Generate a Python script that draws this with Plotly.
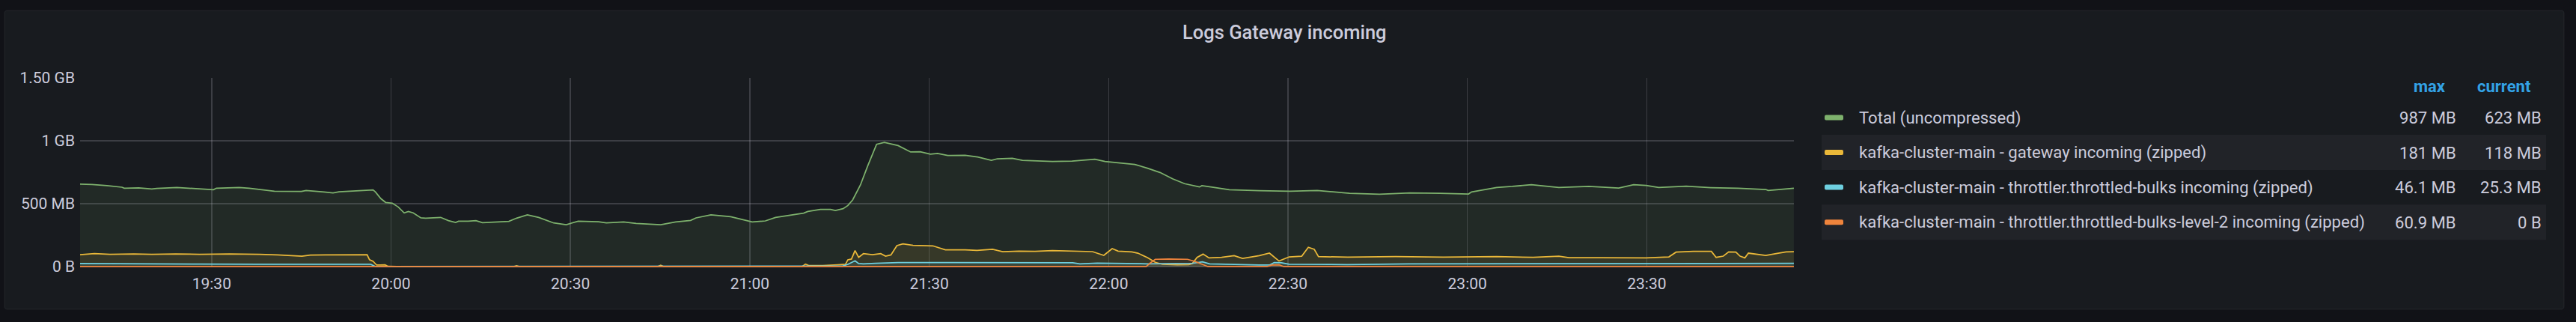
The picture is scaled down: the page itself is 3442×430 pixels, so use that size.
import pandas as pd
import plotly.graph_objects as go

# ---------------- data (minutes after 19:08, values in MB) ----------------
base_time = "2021-01-01 19:08:00"

t_total = [0, 2.0, 4.5, 7.0, 7.4, 9.8, 12.0, 12.8, 16.2, 20.0, 22.3, 22.8, 26.6, 28.3, 30.8, 32.5,
           37.0, 37.8, 40.8, 42.3, 43.3, 45.8, 46.6, 49.0, 49.4, 50.3, 51.1, 52.2, 53.2, 54.2, 54.9,
           55.7, 57.0, 57.8, 60.3, 61.6, 62.8, 63.3, 64.9, 66.2, 67.3, 71.7, 73.0, 74.8, 76.7, 79.2,
           81.3, 82.5, 83.3, 86.7, 88.0, 90.9, 93.0, 97.1, 99.6, 102.1, 103.0, 105.5, 108.8, 112.4,
           114.6, 116.3, 118.8, 121.0, 121.7, 123.8, 125.5, 126.3, 127.6, 128.4, 129.2, 130.5, 131.7,
           132.6, 133.2, 134.5, 136.8, 138.9, 140.5, 142.2, 143.4, 145.1, 148.0, 150.1, 152.4, 153.4,
           155.9, 157.6, 160.9, 162.6, 165.9, 169.7, 171.4, 174.3, 176.4, 178.5, 180.6, 182.7, 184.7,
           187.2, 187.6, 189.3, 192.2, 197.2, 202.3, 206.9, 212.3, 217.3, 222.4, 227.4, 232.2, 232.7,
           236.9, 239.5, 242.7, 247.3, 252.3, 257.3, 259.8, 261.9, 264.0, 268.6, 272.7, 277.3, 281.9,
           282.3, 286.6]
v_total = [655, 653, 643, 631, 623, 625, 617, 621, 629, 619, 611, 623, 629, 623, 609, 599,
           597, 605, 593, 585, 595, 601, 607, 609, 593, 540, 510, 504, 474, 427, 438,
           427, 387, 385, 391, 365, 351, 361, 361, 365, 349, 359, 385, 411, 391, 347,
           333, 351, 361, 357, 347, 355, 343, 333, 355, 367, 387, 411, 397, 355,
           363, 391, 411, 425, 438, 454, 454, 446, 460, 486, 530, 649, 798,
           907, 972, 987, 962, 911, 913, 893, 899, 883, 885, 871, 845, 857,
           861, 845, 841, 835, 839, 853, 835, 821, 812, 782, 748, 698, 659,
           633, 643, 631, 611, 603, 599, 605, 583, 575, 585, 583, 577, 593,
           629, 637, 651, 629, 637, 625, 651, 645, 629, 639, 627, 623, 613,
           605, 623]

t_gateway = [0, 2.4, 5.0, 7.0, 9.0, 12.0, 16.0, 20.0, 22.5, 25.0, 30.0, 33.0, 37.1, 38.5, 41.0,
             45.0, 48.0, 48.4, 49.0, 49.6, 51.0, 51.5, 53.0, 72.5, 73.0, 73.5, 96.6, 97.1, 97.6,
             120.8, 121.3, 121.8, 124.2, 126.7, 128.0, 128.4, 129.0, 129.6, 130.2, 131.0, 132.5,
             133.9, 134.7, 135.6, 136.6, 137.6, 139.3, 142.6, 144.7, 148.0, 150.0, 152.6, 154.3,
             157.0, 159.7, 162.6, 165.9, 169.3, 171.2, 172.6, 173.6, 175.9, 176.9, 178.5, 179.8,
             181.0, 183.5, 185.4, 186.0, 186.8, 187.8, 188.8, 190.9, 193.0, 194.4, 197.2, 198.9,
             200.5, 202.2, 204.3, 205.4, 206.4, 207.1, 212.0, 220.0, 228.0, 236.9, 243.0, 247.3,
             249.0, 254.0, 261.9, 265.7, 266.9, 269.8, 272.8, 273.6, 274.8, 275.7, 276.9, 277.6,
             278.4, 279.0, 281.1, 281.9, 284.0, 285.3, 286.6]
v_gateway = [95, 103, 97, 99, 101, 97, 101, 97, 99, 101, 97, 93, 83, 91, 93,
             95, 95, 54, 42, 12, 14, 2, 0, 0, 6, 0, 0, 10, 0,
             2, 20, 10, 8, 14, 18, 54, 60, 127, 73, 103, 95,
             103, 83, 93, 167, 181, 169, 165, 133, 133, 129, 137, 119,
             123, 121, 127, 121, 119, 89, 143, 123, 117, 107, 71, 34,
             18, 14, 16, 24, 73, 99, 69, 73, 87, 65, 87, 107,
             44, 77, 83, 153, 137, 79, 75, 79, 75, 79, 73, 83,
             71, 71, 69, 77, 115, 121, 121, 73, 83, 117, 115, 83,
             69, 107, 97, 89, 107, 117, 118]

t_bulks = [0, 5, 10, 20, 30, 40, 48, 48.6, 49.4, 127.0, 127.5, 128.4, 129.6, 130.2, 131.0, 133.0,
           136.8, 145.0, 160.0, 166.0, 167.2, 170.1, 178.5, 182.7, 186.0, 187.7, 188.9, 197.2,
           198.9, 199.7, 200.9, 202.2, 211.9, 222.2, 232.7, 241.0, 250.0, 260.0, 270.0, 280.0, 286.6]
v_bulks = [24, 22, 20, 20, 18, 18, 20, 18, 0, 0, 4, 18, 46.1, 24, 22, 26,
           32, 32, 30, 30, 22, 28, 22, 22, 26, 38, 22, 12,
           12, 32, 30, 18, 16, 22, 22, 24, 22, 22, 24, 22, 25.3]

t_level2 = [0, 178.3, 179.0, 179.8, 182.0, 185.2, 186.5, 188.0, 188.6, 198.5, 199.3, 200.5, 201.3, 286.6]
v_level2 = [0, 0, 30, 58, 60.9, 58, 40, 10, 0, 0, 12, 14, 0, 0]

series_names = ["Total (uncompressed)",
                "kafka-cluster-main - gateway incoming (zipped)",
                "kafka-cluster-main - throttler.throttled-bulks incoming (zipped)",
                "kafka-cluster-main - throttler.throttled-bulks-level-2 incoming (zipped)"]
series_colors = ["#7EB26D", "#EAB839", "#6ED0E0", "#EF843C"]
fill_colors = ["rgba(126,178,109,0.1)", "rgba(234,184,57,0.1)",
               "rgba(110,208,224,0.1)", "rgba(239,132,60,0.1)"]
legend_max = ["987 MB", "181 MB", "46.1 MB", "60.9 MB"]
legend_current = ["623 MB", "118 MB", "25.3 MB", "0 B"]

y_tickvals = [0, 500, 1000, 1500]
y_ticktext = ["0 B", "500 MB", "1 GB", "1.50 GB"]
title_text = "Logs Gateway incoming"

# ---------------- layout geometry ----------------
W, H = 3442, 430
ML, MR, MT, MB = 107, 1045, 104, 73
PW, PH = W - ML - MR, H - MT - MB

def px(x):
    return (x - ML) / PW

def py(y):
    return (H - MB - y) / PH

OUTER = "#111217"
PANEL = "#181b1f"
TEXT = "rgb(204,204,220)"
FONT = "Roboto"

base = pd.Timestamp(base_time)
def to_times(mins):
    return [base + pd.Timedelta(minutes=m) for m in mins]

fig = go.Figure()
for t, v, name, col, fc in zip([t_total, t_gateway, t_bulks, t_level2],
                               [v_total, v_gateway, v_bulks, v_level2],
                               series_names, series_colors, fill_colors):
    fig.add_trace(go.Scatter(x=to_times(t), y=v, name=name, mode="lines",
                             line=dict(color=col, width=1.75), fill="tozeroy",
                             fillcolor=fc, hoverinfo="skip", showlegend=False))

def rounded_path(x0, y0, x1, y1, r):
    def P(x, y):
        return f"{px(x):.6f},{py(y):.6f}"
    return (f"M {P(x0 + r, y0)} L {P(x1 - r, y0)} Q {P(x1, y0)} {P(x1, y0 + r)} "
            f"L {P(x1, y1 - r)} Q {P(x1, y1)} {P(x1 - r, y1)} L {P(x0 + r, y1)} "
            f"Q {P(x0, y1)} {P(x0, y1 - r)} L {P(x0, y0 + r)} Q {P(x0, y0)} {P(x0 + r, y0)} Z")

shapes = [dict(type="path", xref="paper", yref="paper", path=rounded_path(6, 14, 3426, 413, 4),
               fillcolor=PANEL, line=dict(color="rgba(204,204,220,0.08)", width=1), layer="below")]

row_y = [157, 203.5, 250, 296.7]
row_h = 47
for i, yc in enumerate(row_y):
    if i % 2 == 1:
        shapes.append(dict(type="rect", xref="paper", yref="paper",
                           x0=px(2434), x1=px(3402), y0=py(yc - row_h / 2), y1=py(yc + row_h / 2),
                           fillcolor="#212328", line=dict(width=0), layer="below"))
    shapes.append(dict(type="path", xref="paper", yref="paper",
                       path=rounded_path(2438, yc - 3.5, 2463, yc + 3.5, 2),
                       fillcolor=series_colors[i], line=dict(width=0), layer="above"))

annotations = [dict(text=title_text, xref="paper", yref="paper", x=px(1716), y=py(43),
                    xanchor="center", yanchor="middle", showarrow=False,
                    font=dict(family=FONT, size=25.5, color=TEXT, weight=500))]
annotations.append(dict(text="<b>max</b>", xref="paper", yref="paper", x=px(3270), y=py(115),
                        xanchor="right", yanchor="middle", showarrow=False,
                        font=dict(family=FONT, size=22, color="#33A2E5")))
annotations.append(dict(text="<b>current</b>", xref="paper", yref="paper", x=px(3384), y=py(115),
                        xanchor="right", yanchor="middle", showarrow=False,
                        font=dict(family=FONT, size=22, color="#33A2E5")))
for i, yc in enumerate(row_y):
    annotations.append(dict(text=series_names[i], xref="paper", yref="paper", x=px(2482), y=py(yc),
                            xanchor="left", yanchor="middle", showarrow=False,
                            font=dict(family=FONT, size=22.1, color=TEXT)))
    annotations.append(dict(text=legend_max[i], xref="paper", yref="paper", x=px(3284), y=py(yc),
                            xanchor="right", yanchor="middle", showarrow=False,
                            font=dict(family=FONT, size=22.1, color=TEXT)))
    annotations.append(dict(text=legend_current[i], xref="paper", yref="paper", x=px(3398), y=py(yc),
                            xanchor="right", yanchor="middle", showarrow=False,
                            font=dict(family=FONT, size=22.1, color=TEXT)))

x_start = base
x_end = base + pd.Timedelta(minutes=PW / 7.99)

fig.update_layout(
    width=W, height=H,
    margin=dict(l=ML, r=MR, t=MT, b=MB, pad=0),
    paper_bgcolor=OUTER, plot_bgcolor=PANEL,
    shapes=shapes, annotations=annotations,
    hovermode=False,
    font=dict(family=FONT, color=TEXT),
    xaxis=dict(type="date", range=[x_start, x_end], tickformat="%H:%M",
               tick0="2021-01-01 19:30:00", dtick=30 * 60 * 1000,
               showgrid=True, gridcolor="rgba(204,204,220,0.2)", gridwidth=1.5,
               zeroline=False, showline=False, ticks="",
               tickfont=dict(family=FONT, size=21, color=TEXT), ticklabelstandoff=7),
    yaxis=dict(range=[-6, 1500], tickvals=y_tickvals, ticktext=y_ticktext,
               showgrid=True, gridcolor="rgba(204,204,220,0.2)", gridwidth=1.5,
               zeroline=False, showline=False, ticks="",
               tickfont=dict(family=FONT, size=21, color=TEXT), ticklabelstandoff=6),
)

fig.write_html("out.html",
               config={"displayModeBar": False, "staticPlot": True},
               post_script="document.body.style.margin='0px';"
                           "document.body.style.background='#111217';")
